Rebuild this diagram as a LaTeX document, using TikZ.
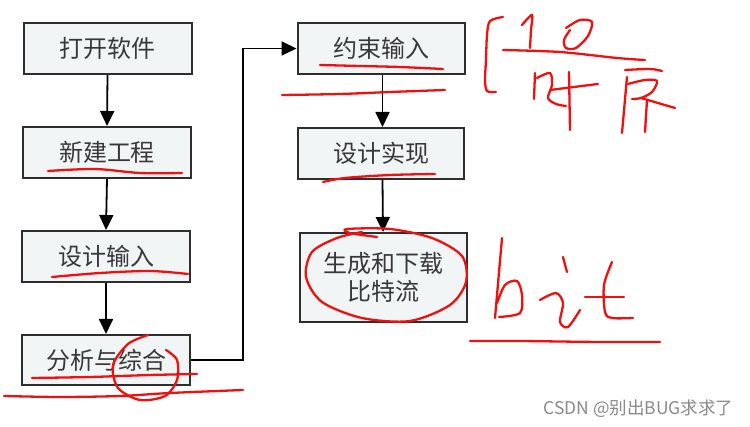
\documentclass[tikz,border=0pt]{standalone}
\usepackage{fontspec}
\newfontfamily\cjk{Noto Sans CJK SC}
\usetikzlibrary{arrows.meta}
\definecolor{boxfill}{HTML}{F1F5F5}
\definecolor{penred}{HTML}{F01010}
\definecolor{boxline}{HTML}{2E2E2E}
\definecolor{wm}{HTML}{8A8A8A}
\begin{document}
\begin{tikzpicture}[x=1pt,y=-1pt,
  box/.style={draw=boxline, line width=2pt, fill=boxfill, text=black!78,
    font=\cjk\fontsize{24}{28}\selectfont, inner sep=0pt, align=center},
  arr/.style={line width=1.8pt, -{Triangle[length=15pt,width=14pt]}},
  pen/.style={draw=penred, line width=2.3pt, line cap=round, line join=round}]
\fill[white] (0,0) rectangle (750,427);
\useasboundingbox (0,0) rectangle (750,427);

% left column
\node[box, minimum width=168pt, minimum height=51pt] (b1) at (107.5,48.5) {打开软件};
\node[box, minimum width=168pt, minimum height=51pt] (b2) at (107,152.5) {新建工程};
\node[box, minimum width=168pt, minimum height=51pt] (b3) at (106,256.5) {设计输入};
\node[box, minimum width=168pt, minimum height=50pt] (b4) at (106,360) {分析与综合};
% right column
\node[box, minimum width=167pt, minimum height=51pt] (r1) at (381,48.5) {约束输入};
\node[box, minimum width=166pt, minimum height=51pt] (r2) at (381,153.5) {设计实现};
\node[box, minimum width=167pt, minimum height=89pt] (r3) at (383,277.5) {生成和下载\\比特流};

\coordinate (c1) at (243,360);
\coordinate (c2) at (243,48.5);

\draw[arr] (b1.south) -- (b2.north);
\draw[arr] (b2.south) -- (b3.north);
\draw[arr] (b3.south) -- (b4.north);
\draw[arr] (b4.east) -- (c1) -- (c2) -- (r1.west);
\draw[arr] ([xshift=1.5pt]r1.south) -- ([xshift=1.5pt]r2.north);
\draw[arr] ([xshift=1.5pt]r2.south) -- (r3.north);

% red pen annotations
\draw[pen] plot[smooth] coordinates {(48,171) (95,169) (140,173) (182,173)};
\draw[pen] plot[smooth] coordinates {(52,277) (100,273) (150,271) (188,274)};
\draw[pen] plot[smooth] coordinates {(32,378) (90,377) (150,375) (197,374)};
\draw[pen] plot[smooth] coordinates {(4,396) (60,397) (120,396) (170,393) (243,390)};
\draw[pen] plot[smooth] coordinates {(148,335) (128,344) (113,365) (118,388) (140,400) (165,396) (177,380) (177,360) (166,350)};
\draw[pen] plot[smooth] coordinates {(320,65) (360,66) (400,67) (443,69)};
\draw[pen] plot[smooth] coordinates {(282,95) (340,94) (390,92) (445,90)};
\draw[pen] plot[smooth] coordinates {(323,182) (345,178) (390,175) (435,174)};
\draw[pen] plot[smooth] coordinates {(377,237) (350,233) (347,229) (390,229) (432,238) (462,256) (466,282) (450,305) (410,321) (362,318) (322,302) (306,277) (312,252) (337,238) (362,232)};
% brace
\draw[pen] plot[smooth] coordinates {(503,17) (490,21) (487,35) (486,60) (485,80) (487,91) (496,92)};
% "1" and "0"
\draw[pen] plot[smooth] coordinates {(522,25) (532,15) (531,30) (530,48)};
\draw[pen] plot[smooth] coordinates {(566,28) (580,20) (592,22) (588,36) (576,48) (566,48) (564,40) (570,30)};
% long horizontal stroke
\draw[pen] plot[smooth] coordinates {(503,50) (560,52) (617,58) (645,60)};
% 时
\draw[pen] (535,73) -- (534,99);
\draw[pen] plot[smooth] coordinates {(537,78) (550,73) (552,85) (548,98) (556,104) (566,106)};
\draw[pen] (550,90) -- (598,84);
\draw[pen] (569,72) -- (570,130);
% 序
\draw[pen] plot[smooth] coordinates {(625,70) (650,69) (662,71)};
\draw[pen] (627,77) -- (622,133);
\draw[pen] plot[smooth] coordinates {(628,84) (645,80) (657,81) (652,92) (641,98) (632,99)};
\draw[pen] (641,98) -- (675,108);
\draw[pen] (647,100) -- (645,132);
% bit
\draw[pen] (502,238) -- (495,318);
\draw[pen] plot[smooth] coordinates {(497,303) (505,285) (517,281) (522,295) (520,313) (499,317)};
\draw[pen] (563,257) -- (567,272);
\draw[pen] plot[smooth] coordinates {(540,300) (556,293) (563,303) (560,322) (568,327) (580,310)};
\draw[pen] plot[smooth] coordinates {(612,262) (604,285) (605,312) (612,318) (633,318)};
\draw[pen] (585,297) -- (624,297);
\draw[pen] plot[smooth] coordinates {(470,341) (520,341) (600,342) (660,342)};

\node[font=\cjk\fontsize{17.5}{20}\selectfont, text=wm, anchor=east] (wmk) at (737,409) {CSDN @别出BUG求求了};
\end{tikzpicture}
\end{document}
